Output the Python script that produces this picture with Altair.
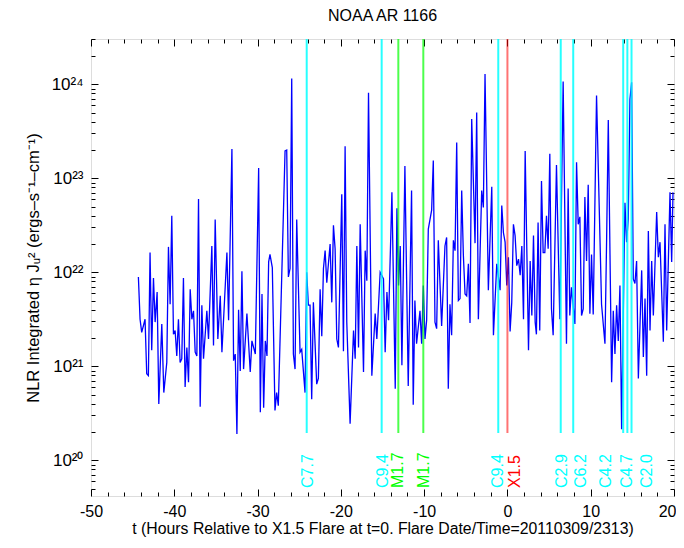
import altair as alt
import pandas as pd
import numpy as np

# ---- time series (hours relative to X1.5 flare, log10 of NLR integrated eta J_u^2) ----
t_seg1 = [-44.31,-44.11,-43.91,-43.51,-43.31,-43.11,-42.91,-42.71,-42.50,-42.30,-42.06,-41.86,-41.50,-41.26,-40.90,-40.70,-40.50,-40.30,-40.10,-39.90,-39.70,-39.50,-39.30,-39.10,-38.90,-38.70,-38.49,-38.29,-38.09,-37.89,-37.69,-37.49,-37.29,-37.09,-36.89,-36.69,-36.49,-36.09,-35.89,-35.49,-35.29,-35.09,-34.77,-34.48,-34.28,-33.68,-33.48,-33.08,-32.88,-32.68,-32.48,-32.28,-32.08,-31.88,-31.68,-31.28,-30.88,-30.68,-30.27,-29.87,-29.67,-29.47,-29.27,-29.07,-28.87,-28.67]
lg_seg1 = [21.95,21.50,21.36,21.50,20.92,20.90,22.21,21.17,21.94,21.47,21.79,20.60,21.45,20.72,21.04,22.27,21.66,22.60,21.34,21.38,21.11,21.50,21.04,21.08,21.94,20.78,21.20,20.83,21.82,21.50,21.59,21.15,21.11,22.78,20.57,21.65,21.08,21.59,21.29,22.28,21.22,22.56,21.29,21.75,21.15,22.21,21.49,23.31,21.06,21.13,20.28,21.60,20.95,22.01,20.97,21.56,20.94,21.27,21.13,23.11,20.51,21.77,20.56,21.27,21.11,22.11]

t_seg2 = [-28.51,-28.23,-27.91,-27.71,-27.51,-26.70,-26.50,-26.30,-26.10,-25.90,-25.70,-25.50,-25.30,-24.90,-24.70,-24.30,-24.10,-23.90,-23.70,-23.50,-23.30,-22.90,-22.70,-22.49,-22.29,-22.09,-21.89,-21.69,-21.29,-21.09,-20.89,-20.69,-20.49,-20.29,-19.89,-19.69,-19.49,-19.29,-18.89,-18.48,-18.28,-18.08,-17.88,-17.68,-17.28,-17.08,-16.88,-16.68,-16.28,-15.88,-15.68,-15.28,-14.88,-14.68,-14.47,-14.27,-13.87,-13.47,-13.27,-13.07,-12.87,-12.67]
lg_seg2 = [22.19,22.05,20.53,20.72,20.58,23.29,23.30,21.95,22.04,24.06,21.13,20.97,22.56,21.15,21.18,20.72,22.00,21.65,21.65,20.65,21.68,20.81,20.87,21.82,21.32,22.04,22.23,21.89,22.30,21.68,22.50,22.25,21.29,21.20,22.83,21.16,23.34,21.47,20.39,21.38,21.08,22.28,21.20,22.51,20.94,22.23,21.91,23.91,20.90,21.56,21.29,22.00,21.93,21.15,21.79,21.49,22.85,20.76,22.68,21.86,22.28,21.01]

t_seg3 = [-12.31,-11.91,-11.51,-11.31,-11.11,-10.91,-10.50,-10.30,-10.10,-9.90,-9.70,-9.50,-9.10,-8.90,-8.70,-8.50,-8.30,-7.90,-7.50,-7.30,-7.10,-6.90,-6.70,-6.49,-6.29,-6.09,-5.89,-5.69,-5.49,-5.29,-5.09,-4.89,-4.69,-4.49,-4.29,-3.89,-3.69,-3.49,-3.09,-2.89,-2.69,-2.29,-1.88,-1.68,-1.28,-0.88,-0.68,-0.48,-0.28,-0.08,0.12,0.32,0.52,0.72,0.92,1.12,1.33,1.53,1.73,1.93,2.13,2.53,2.73,2.93,3.13,3.33]
lg_seg3 = [23.13,20.79,22.87,20.59,21.70,21.24,21.59,21.24,21.86,21.29,21.49,22.46,22.66,23.19,21.47,21.40,22.34,21.43,22.28,22.37,20.76,21.66,21.33,22.34,22.23,23.38,21.70,21.72,22.87,22.18,21.77,21.75,22.09,21.46,23.63,22.31,23.70,21.50,22.87,22.69,24.11,21.81,22.91,21.33,22.09,21.81,22.71,22.42,22.32,21.86,22.16,21.37,21.68,22.51,22.39,22.07,22.14,21.97,22.28,21.50,23.29,21.17,22.12,21.54,22.39,21.47]

t_seg4 = [3.48,3.68,3.88,4.09,4.29,4.49,4.69,4.89,5.09,5.29,5.49,5.89,6.29,6.69,7.09,7.29,7.49,7.69,8.10,8.30,8.50,8.70,8.90,9.10,9.30,9.50,9.70,9.90,10.10,10.30,10.70,11.30,11.71,11.91,12.11,12.51,12.71,12.91,13.11,13.31,13.51,13.71,14.11,14.31,14.51,14.71,14.91,15.11,15.31,15.51,15.72,16.12,16.32,16.52,16.72,16.92,17.12,17.32,17.52,17.92,18.12,18.32,18.72,18.92,19.12,19.52,19.72,19.88]
lg_seg4 = [21.34,22.53,21.38,22.97,22.21,22.21,22.60,22.25,23.26,21.61,21.33,23.14,21.50,24.03,21.24,22.89,21.54,21.84,21.45,23.17,22.51,22.59,21.54,21.61,22.80,22.12,22.93,21.56,22.19,21.55,23.88,21.66,21.24,22.35,23.62,20.83,21.59,21.13,21.65,21.27,21.86,20.33,22.74,22.32,22.57,23.84,24.02,21.93,21.88,22.12,20.87,22.02,21.10,21.72,20.90,22.44,21.38,22.12,21.54,22.64,22.16,22.32,21.26,22.51,21.38,22.85,22.11,22.85]

# ---- flares ----
flare_t = [-24.1, -15.1, -13.1, -10.1, -1.1, 0.0, 6.4, 7.9, 13.9, 14.4, 14.9]
flare_label = ["C7.7", "C9.4", "M1.7", "M1.7", "C9.4", "X1.5", "C2.9", "C6.2", "C4.2", "C4.7", "C2.0"]
flare_label_t = [-24.0, -15.0, -13.1, -10.0, -1.1, 0.9, 6.5, 8.8, 11.8, 14.4, 16.7]
flare_line_bottom = 1.95e20

x_major = [-50, -40, -30, -20, -10, 0, 10, 20]
x_labels_main = [-50, -40, -30, -20, -10, 0, 10]
x_labels_edge = [20]
x_minor = [v for v in range(-50, 21, 2) if v % 10 != 0]
y_major = [1e20, 1e21, 1e22, 1e23, 1e24]
y_minor = [k * 10.0 ** n for n in range(19, 25) for k in range(2, 10) if 4.17e19 <= k * 10.0 ** n <= 3.03e24]

W, H = 583, 457
FONT = "Liberation Sans"

t_all = t_seg1 + t_seg2 + t_seg3 + t_seg4
lg_all = lg_seg1 + lg_seg2 + lg_seg3 + lg_seg4
series = pd.DataFrame({"t": t_all, "v": np.power(10.0, lg_all)})

flares = pd.DataFrame({
    "t": flare_t,
    "lt": flare_label_t,
    "label": flare_label,
    "cls": [s[0] for s in flare_label],
    "ylo": [flare_line_bottom] * len(flare_t),
})

xscale = alt.Scale(domain=[-50, 20], nice=False, zero=False)
yscale = alt.Scale(type="log", domain=[4.17e19, 3.03e24], nice=False)

sup = "['⁰','¹','²','³','⁴','⁵','⁶','⁷','⁸','⁹']"
ylabel_expr = ("'10' + " + sup + "[floor(round(log(datum.value)/LN10)/10)] + "
               + sup + "[round(log(datum.value)/LN10) % 10]")

main_x = alt.Axis(orient="bottom", values=x_labels_main, labelExpr="'' + datum.value",
                  ticks=False, domain=False, grid=False, labelFlush=False, labelOverlap=False,
                  labelFont=FONT, labelFontSize=16, labelColor="black", labelPadding=7,
                  title="t (Hours Relative to X1.5 Flare at t=0. Flare Date/Time=20110309/2313)",
                  titleFont=FONT, titleFontSize=15.8, titleFontWeight="normal", titleColor="black",
                  titlePadding=2)
main_y = alt.Axis(orient="left", values=y_major, labelExpr=ylabel_expr,
                  ticks=False, domain=False, grid=False, labelFlush=False, labelOverlap=False,
                  labelFont=FONT, labelFontSize=17, labelColor="black", labelPadding=8,
                  title="NLR Integrated η Jᵤ² (ergs–s⁻¹–cm⁻¹)",
                  titleFont=FONT, titleFontSize=16.5, titleFontWeight="normal", titleColor="black",
                  titlePadding=10)

line = alt.Chart(series).mark_line(color="#0000FF", strokeWidth=1.3).encode(
    x=alt.X("t:Q", scale=xscale, axis=main_x),
    y=alt.Y("v:Q", scale=yscale, axis=main_y),
)

# last x label (20), kept inside the chart edge
edge_x = alt.Axis(orient="bottom", values=x_labels_edge, labelExpr="'' + datum.value",
                  ticks=False, domain=False, grid=False, labelFlush=True, labelFlushOffset=2,
                  labelFont=FONT, labelFontSize=16, labelColor="black", labelPadding=7, title="")
edge = alt.Chart(series).mark_line(opacity=0).encode(
    x=alt.X("t:Q", scale=xscale, axis=edge_x),
    y=alt.Y("v:Q", scale=yscale, axis=None),
)


def tick_layer(xorient, xoff, xvals, yorient, yoff, yvals, size):
    ax = alt.Axis(orient=xorient, offset=xoff, values=xvals, labels=False, domain=False,
                  grid=False, ticks=True, tickSize=size, tickColor="black", tickWidth=1, title="")
    ay = alt.Axis(orient=yorient, offset=yoff, values=yvals, labels=False, domain=False,
                  grid=False, ticks=True, tickSize=size, tickColor="black", tickWidth=1, title="")
    return alt.Chart(series).mark_line(opacity=0).encode(
        x=alt.X("t:Q", scale=xscale, axis=ax),
        y=alt.Y("v:Q", scale=yscale, axis=ay),
    )


# inward ticks: bottom & left edges
t1 = tick_layer("top", -H, x_major, "right", -W, y_major, 7)
t2 = tick_layer("top", -H, x_minor, "right", -W, y_minor, 4)
# inward ticks: top & right edges
t3 = tick_layer("bottom", -H, x_major, "left", -W, y_major, 7)
t4 = tick_layer("bottom", -H, x_minor, "left", -W, y_minor, 4)

rules = alt.Chart(flares).mark_rule(strokeWidth=2).encode(
    x=alt.X("t:Q", scale=xscale, axis=None),
    y=alt.Y("ylo:Q", scale=yscale, axis=None),
    y2=alt.value(0),
    color=alt.Color("cls:N", scale=alt.Scale(domain=["C", "M", "X"],
                                             range=["#00FFFF", "#00FF00", "#FF0000"]), legend=None),
    opacity=alt.Opacity("cls:N", scale=alt.Scale(domain=["C", "M", "X"], range=[0.85, 0.55, 0.55]),
                        legend=None),
)

labels = alt.Chart(flares).mark_text(angle=270, align="left", baseline="middle",
                                     font=FONT, fontSize=16).encode(
    x=alt.X("lt:Q", scale=xscale, axis=None),
    y=alt.value(449),
    text="label:N",
    color=alt.Color("cls:N", scale=alt.Scale(domain=["C", "M", "X"],
                                             range=["#00FFFF", "#00FF00", "#FF0000"]), legend=None),
)

chart = alt.layer(line, edge, t1, t2, t3, t4, rules, labels).properties(
    width=W, height=H,
    title=alt.Title("NOAA AR 1166", font=FONT, fontSize=16, fontWeight="normal", color="black",
                    offset=14),
    autosize=alt.AutoSizeParams(type="none"),
    padding={"left": 83, "top": 31, "right": 2, "bottom": 44},
).configure_view(stroke="black", strokeWidth=1).configure(background="white")

chart.save("out.html", embed_options={"renderer": "svg", "actions": False})
